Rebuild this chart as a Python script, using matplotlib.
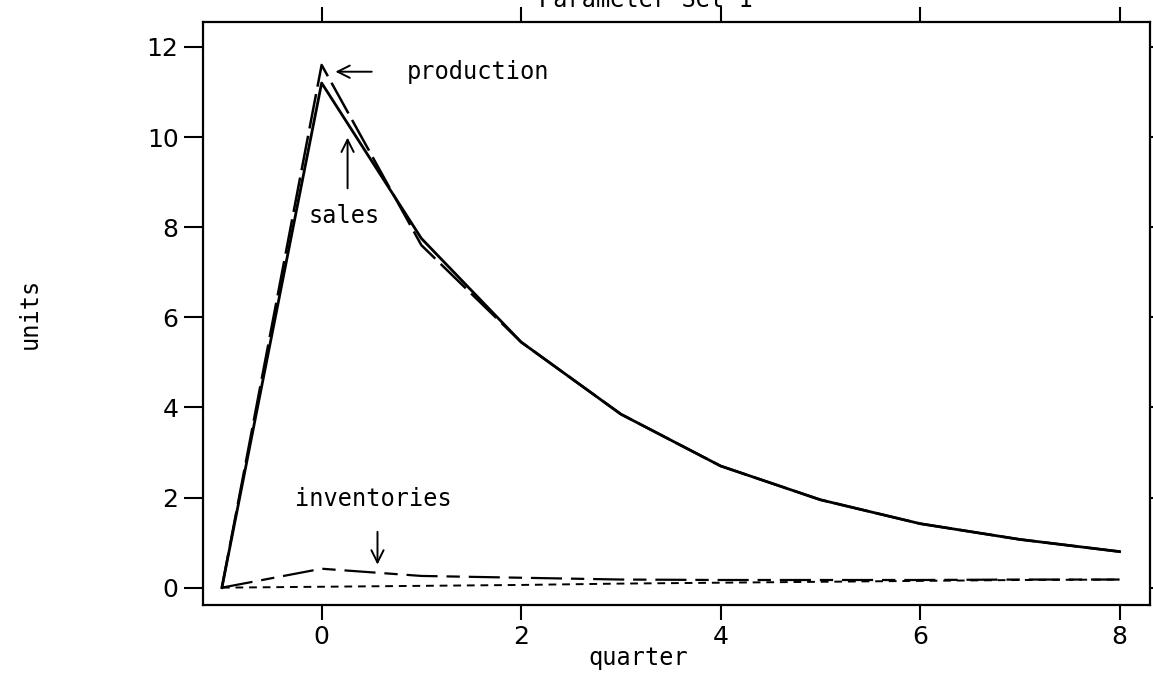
import matplotlib
matplotlib.use("Agg")
import matplotlib.pyplot as plt

# quarters and series
quarters = [-1, 0, 1, 2, 3, 4, 5, 6, 7, 8]
sales = [0.0, 11.2, 7.75, 5.45, 3.85, 2.7, 1.95, 1.42, 1.07, 0.8]
production = [0.0, 11.6, 7.6, 5.45, 3.85, 2.7, 1.95, 1.42, 1.07, 0.8]
inventories = [0.0, 0.42, 0.26, 0.22, 0.18, 0.17, 0.17, 0.17, 0.18, 0.18]
baseline = [0.0, 0.02, 0.04, 0.06, 0.09, 0.11, 0.13, 0.15, 0.17, 0.18]

x_ticks = [0, 2, 4, 6, 8]
y_ticks = [0, 2, 4, 6, 8, 10, 12]

mono = "DejaVu Sans Mono"

fig = plt.figure(figsize=(11.53, 6.78), dpi=100)
ax = fig.add_axes([0.176, 0.108, 0.821, 0.860])

ax.plot(quarters, sales, color="black", lw=2.0, ls="-")
ax.plot(quarters, production, color="black", lw=1.8, ls=(0, (14, 3)))
ax.plot(quarters, inventories, color="black", lw=1.6, ls=(0, (14, 4, 6, 4)))
ax.plot(quarters, baseline, color="black", lw=1.4, ls=(0, (4, 3)))

ax.set_xlim(-1.19, 8.3)
ax.set_ylim(-0.38, 12.56)
ax.set_xticks(x_ticks)
ax.set_yticks(y_ticks)

ax.tick_params(axis="both", direction="out", width=1.5, labelsize=18)
ax.tick_params(axis="x", length=11, top=True, labeltop=False)
ax.tick_params(axis="y", length=14, right=True, labelright=False)
for t in ax.yaxis.get_major_ticks():
    t.tick2line.set_markersize(4)
for spine in ax.spines.values():
    spine.set_linewidth(1.6)

ax.set_xlabel("quarter", fontsize=17, family=mono)
ax.xaxis.set_label_coords(0.46, -0.07)
ax.set_ylabel("units", fontsize=17, family=mono)
ax.yaxis.set_label_coords(-0.17, 0.5)

# annotations with arrows
arrow = dict(arrowstyle="->", color="black", lw=1.4, mutation_scale=22)
ax.annotate("", xy=(0.11, 11.45), xytext=(0.53, 11.45), arrowprops=arrow)
ax.text(0.85, 11.45, "production", fontsize=17, family=mono, va="center")
ax.annotate("", xy=(0.26, 10.05), xytext=(0.26, 8.8), arrowprops=arrow)
ax.text(0.23, 8.25, "sales", fontsize=17, family=mono, va="center", ha="center")
ax.annotate("", xy=(0.56, 0.45), xytext=(0.56, 1.3), arrowprops=arrow)
ax.text(0.52, 1.96, "inventories", fontsize=17, family=mono, va="center", ha="center")

# title mostly cut off by the top of the scan, as in the original
fig.text(0.56, 1 - 7 / 678, "Parameter Set 1", fontsize=17, family=mono,
         ha="center", va="baseline")

fig.savefig("out.png", dpi=100)
